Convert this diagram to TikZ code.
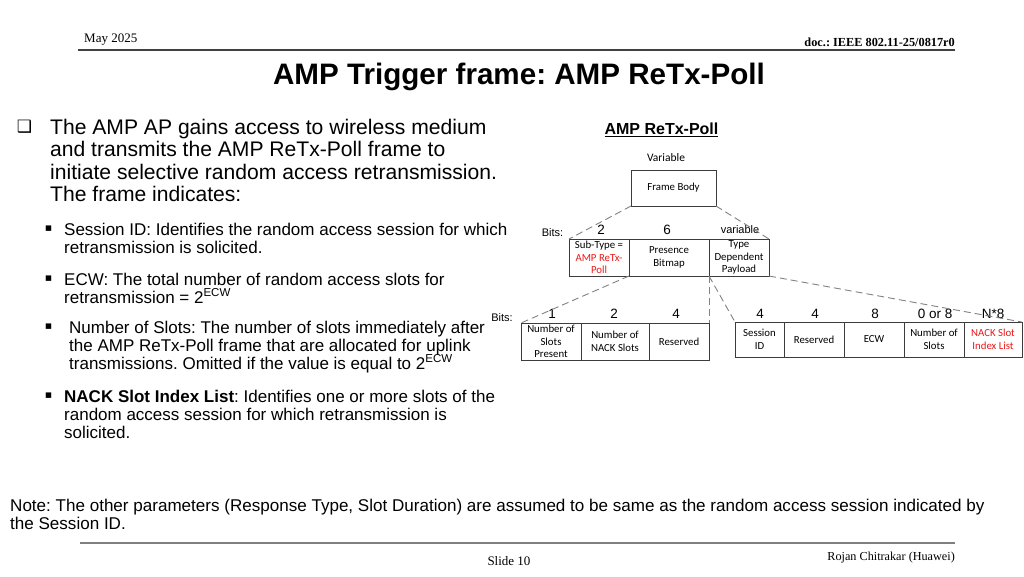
\documentclass[tikz,border=0pt]{standalone}
\usepackage{fontspec}
\setmainfont{Liberation Sans}
\newfontfamily\calib{Carlito}
\newfontfamily\tnr{Liberation Serif}
\newfontfamily\djv{DejaVu Sans}
\definecolor{redtxt}{RGB}{235,25,25}
\definecolor{boxline}{RGB}{60,60,60}
\definecolor{dashline}{RGB}{130,130,130}
\newcommand\fs[2]{\fontsize{#1}{#2}\selectfont}
\newcommand\supECW{\raisebox{0.38em}{\fs{11.5}{11.5}ECW}}
\frenchspacing
\tikzset{
  fieldbox/.style={draw=boxline, line width=0.9pt, inner sep=0pt, outer sep=0pt, align=center, font=\calib\fs{10.8}{12.5}},
  link/.style={draw=dashline, dash pattern=on 7pt off 4pt, line width=0.9pt},
  txt/.style={inner sep=0pt, anchor=base west},
  maintxt/.style={txt, font=\fs{21.1}{22}},
  subtxt/.style={txt, font=\fs{17}{18}},
  bul/.style={inner sep=0pt, font=\djv\fs{11}{11}},
  numlbl/.style={inner sep=0pt, font=\fs{13.5}{14}},
  bitslbl/.style={inner sep=0pt, font=\fs{11}{11}}
}
\begin{document}
\begin{tikzpicture}[x=1pt,y=-1pt]
\useasboundingbox[fill=white] (0,0) rectangle (1024,576);

% header
\node[txt, font=\tnr\fs{13}{13}] (date) at (84,42) {May 2025};
\node[inner sep=0pt, anchor=base east, font=\tnr\bfseries\fs{12.3}{13}] (doc) at (955,46) {doc.: IEEE 802.11-25/0817r0};
\coordinate (hl1) at (78,50);
\coordinate (hl2) at (955,50);
\draw[line width=1.3pt, color=black!75] (hl1) -- (hl2);
\node[inner sep=0pt, anchor=base, font=\bfseries\fs{29.6}{30}] (title) at (519,84) {AMP Trigger frame: AMP ReTx-Poll};

% main bullet
\node[inner sep=0pt, font=\djv\fs{17}{17}] (cb) at (24.5,127) {❑};
\node[maintxt] (m1) at (50,134) {The AMP AP gains access to wireless medium};
\node[maintxt] (m2) at (50,156.5) {and transmits the AMP ReTx-Poll frame to};
\node[maintxt] (m3) at (50,179) {initiate selective random access retransmission.};
\node[maintxt] (m4) at (50,201.5) {The frame indicates:};

% sub bullets
\node[bul] (b1) at (48.5,229) {▪};
\node[subtxt] (s1a) at (64,235) {Session ID: Identifies the random access session for which};
\node[subtxt] (s1b) at (64,253) {retransmission is solicited.};
\node[bul] (b2) at (48.5,279) {▪};
\node[subtxt] (s2a) at (64,285) {ECW: The total number of random access slots for};
\node[subtxt] (s2b) at (64,303) {retransmission = 2\supECW};
\node[bul] (b3) at (48.5,327) {▪};
\node[subtxt] (s3a) at (69,333) {Number of Slots: The number of slots immediately after};
\node[subtxt] (s3b) at (69,351) {the AMP ReTx-Poll frame that are allocated for uplink};
\node[subtxt] (s3c) at (69,369) {transmissions. Omitted if the value is equal to 2\supECW};
\node[bul] (b4) at (48.5,396) {▪};
\node[subtxt] (s4a) at (64,402) {\textbf{NACK Slot Index List}: Identifies one or more slots of the};
\node[subtxt] (s4b) at (64,420) {random access session for which retransmission is};
\node[subtxt] (s4c) at (64,438.5) {solicited.};

% diagram
\node[inner sep=0pt, anchor=base, font=\bfseries\fs{16}{16}] (dtitle) at (661.5,134.5) {\underline{AMP ReTx-Poll}};
\node[inner sep=0pt, font=\calib\fs{11.5}{12}] (varlbl) at (666,158) {Variable};
\node[fieldbox, minimum width=85pt, minimum height=36pt] (fb) at (673.5,188) {Frame Body};

\node[bitslbl] (bits1) at (552.5,232.5) {Bits:};
\node[numlbl] (n2a) at (601,229.5) {2};
\node[numlbl] (n6) at (667,229.5) {6};
\node[inner sep=0pt, font=\fs{11}{11}] (nvar) at (740,229.5) {variable};

\node[fieldbox, minimum width=60pt, minimum height=37pt] (st) at (599,257.5) {Sub-Type =\\\textcolor{redtxt}{AMP ReTx-}\\\textcolor{redtxt}{Poll}};
\node[fieldbox, minimum width=80pt, minimum height=37pt] (pb) at (669,257.5) {Presence\\Bitmap};
\node[fieldbox, minimum width=60pt, minimum height=37pt] (tdp) at (739,257.5) {Type\\Dependent\\Payload};

\node[bitslbl] (bits2) at (502,318) {Bits:};
\node[numlbl] (l1) at (552,313.5) {1};
\node[numlbl] (l2) at (614,313.5) {2};
\node[numlbl] (l3) at (676,313.5) {4};
\node[numlbl] (r1) at (760,313.5) {4};
\node[numlbl] (r2) at (815,313.5) {4};
\node[numlbl] (r3) at (875,313.5) {8};
\node[numlbl] (r4) at (935,313.5) {0 or 8};
\node[numlbl] (r5) at (993,313.5) {N*8};

\node[fieldbox, minimum width=60pt, minimum height=37pt] (nsp) at (551,341.5) {Number of\\Slots\\Present};
\node[fieldbox, minimum width=68pt, minimum height=37pt] (nns) at (615,341.5) {Number of\\NACK Slots};
\node[fieldbox, minimum width=60pt, minimum height=37pt] (res1) at (679,341.5) {Reserved};

\node[fieldbox, minimum width=49pt, minimum height=35pt] (sid) at (759.5,339.5) {Session\\ID};
\node[fieldbox, minimum width=60pt, minimum height=35pt] (res2) at (814,339.5) {Reserved};
\node[fieldbox, minimum width=60pt, minimum height=35pt] (ecw) at (874,339.5) {ECW};
\node[fieldbox, minimum width=60pt, minimum height=35pt] (nos) at (934,339.5) {Number of\\Slots};
\node[fieldbox, minimum width=58pt, minimum height=35pt] (nack) at (993,339.5) {\textcolor{redtxt}{NACK Slot}\\\textcolor{redtxt}{Index List}};

\draw[link] (fb.south west) -- (st.north west);
\draw[link] (fb.south east) -- (tdp.north east);
\draw[link] (st.south east) -- (nsp.north west);
\draw[link] (tdp.south west) -- (res1.north east);
\draw[link] (tdp.south west) -- (sid.north west);
\draw[link] (tdp.south east) -- (nack.north east);

% note
\node[txt, font=\fs{17.05}{18}] (note1) at (10,511) {Note: The other parameters (Response Type, Slot Duration) are assumed to be same as the random access session indicated by};
\node[txt, font=\fs{17.05}{18}] (note2) at (10,529) {the Session ID.};

% footer
\coordinate (fl1) at (80,543);
\coordinate (fl2) at (955,543);
\draw[line width=1.6pt, color=black!50] (fl1) -- (fl2);
\node[inner sep=0pt, anchor=base, font=\tnr\fs{13}{13}] (slide) at (509,565) {Slide 10};
\node[inner sep=0pt, anchor=base east, font=\tnr\fs{12.2}{13}] (author) at (955,560) {Rojan Chitrakar (Huawei)};
\end{tikzpicture}
\end{document}
